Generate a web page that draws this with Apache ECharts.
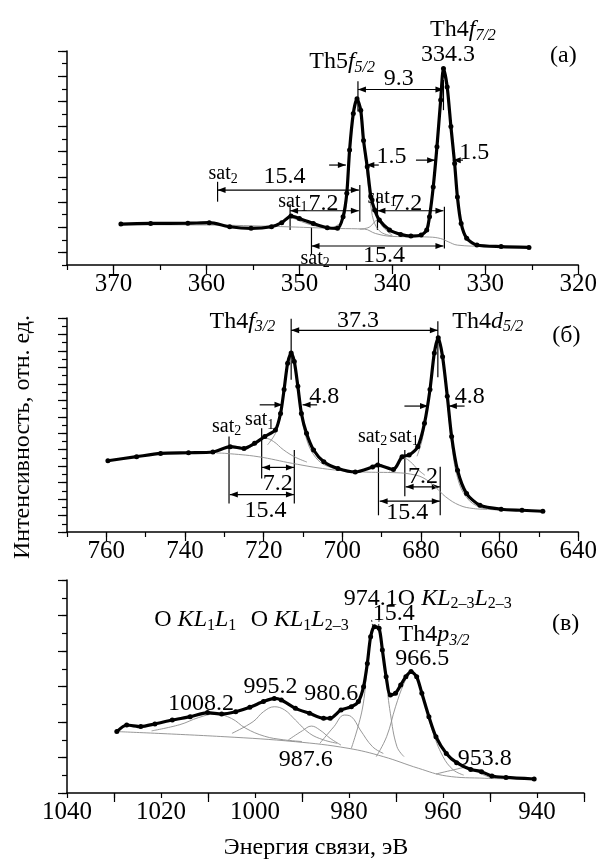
<!DOCTYPE html>
<html lang="ru">
<head>
    <meta charset="UTF-8">
    <title>XPS Th</title>
    <script src="https://cdn.jsdelivr.net/npm/echarts@6/dist/echarts.min.js"></script>
</head>
<body style="margin:0;background:#fff">
    <div id="box" style="width:600px;height:861px;"></div>
<script>
// ---------- данные: [энергия связи, интенсивность] ----------
// панель (a) Th5f / Th4f
var mainA = [[369.2,3.25],[366,3.3],[362,3.32],[359.7,3.36],[357.5,3.04],[355.2,2.91],[353,3.04],[351.9,3.36],[350.9,3.89],[350,3.7],[348.5,3.3],[347,2.96],[345.9,2.91],[345.3,3.84],[344.9,5.69],[344.6,9.13],[344.2,12.04],[343.8,13.2],[343.4,12.3],[343.1,9.9],[342.7,7.8],[342.3,5.4],[341.9,4.37],[341.4,3.57],[340.3,2.78],[339.1,2.43],[338,2.3],[336.9,2.38],[336.3,2.78],[336,3.84],[335.6,6.2],[335.2,9.4],[334.8,13.1],[334.5,15.6],[334.1,14.15],[333.7,11],[333.3,8.07],[333,5.4],[332.6,3.3],[332,2.12],[330.9,1.59],[328.3,1.46],[325.3,1.4]];
var bgA = [[369.2,3.2],[360,3.18],[352,3.05],[348,2.95],[345.8,2.9],[343,2.85],[341.8,2.5],[340,2.27],[336,2.22],[334.8,2.1],[334,1.85],[333,1.58],[330,1.48],[325.3,1.42]];
var satA1 = [[354,3.05],[352.3,3.25],[351,3.75],[349.8,3.45],[348.3,3.1],[346.5,2.95]];
var satA2 = [[343.5,2.85],[342.5,3.0],[341.6,3.55],[341,3.0],[340,2.35]];
var pkA1 = [[346.5,2.93],[345.3,3.6],[344.9,5.5],[344.6,9.0],[344.2,12.0],[343.8,13.15],[343.4,12.2],[343.1,9.8],[342.7,7.0],[342.3,4.6],[341.9,3.3],[341.2,2.6],[340,2.3]];
var pkA2 = [[337.5,2.25],[336.3,2.6],[336,3.6],[335.6,6.1],[335.2,9.3],[334.8,13.0],[334.5,15.5],[334.1,14.1],[333.7,10.9],[333.3,8.0],[333,5.3],[332.6,3.2],[332,2.0],[331,1.55],[329,1.47]];

// панель (б) Th4d
var mainB = [[759.6,8.66],[752.3,9.15],[746.2,9.55],[739.1,9.63],[732.9,9.72],[728.5,10.37],[725,10.16],[722.3,10.77],[719.7,11.6],[717,12.4],[715.7,14.4],[714.8,17.3],[713.9,20.5],[713,21.75],[712.2,20.7],[711.3,17.7],[710.4,14.4],[709.1,12],[707.3,9.96],[704.7,8.54],[701.1,7.72],[696.7,7.3],[692.3,7.9],[691,8.13],[687,7.6],[684.8,9.15],[683,9.35],[680.8,10.37],[679.1,13.2],[677.7,17.3],[676.6,21.75],[675.6,23.6],[674.5,21.3],[673.3,16.5],[672.2,11.6],[670.7,7.5],[668.4,4.67],[665,3.25],[659.6,2.76],[654.3,2.64],[649,2.52]];
var bgB = [[732,9.6],[729.6,9.55],[721.4,9.15],[712.6,8.33],[703.8,7.64],[695,7.3],[686.1,7.2],[682.6,7.03],[679.5,6.6],[676.4,5.5],[673.7,4.27],[670.2,3.25],[666.7,2.85],[663.2,2.76]];
var satB1 = [[724.5,10.0],[722,10.7],[719.7,11.4],[717.5,11.0],[715,10.0],[712,9.1],[709,8.5]];
var pkB1 = [[719,10.6],[717,12.0],[715.7,14.2],[714.8,17.2],[713.9,20.4],[713,21.65],[712.2,20.6],[711.3,17.5],[710.4,14.1],[709.1,11.3],[707.3,9.4],[704.7,8.2],[701,7.6]];
var satB2 = [[688,7.4],[685.8,8.3],[684.2,8.95],[682.6,8.5],[680.8,7.6],[679,6.9]];
var pkB2 = [[681,9.2],[679.8,11.0],[679.1,12.9],[677.7,17.0],[676.6,21.5],[675.6,23.5],[674.5,21.2],[673.3,16.0],[672.2,10.8],[670.7,6.6],[668.4,4.2],[665,3.0],[661,2.7]];

// панель (в) Th4p + O KLL
var mainV = [[1029.4,3.46],[1027.3,3.83],[1024.3,3.74],[1021.3,3.89],[1017.6,4.11],[1013.8,4.3],[1010.1,4.53],[1007.1,4.45],[1004.1,4.58],[1001.1,4.83],[998.2,5.15],[995.9,5.33],[994.4,5.24],[991.4,4.77],[988.4,4.49],[985.4,4.21],[984,4.21],[981.7,4.68],[979.5,4.86],[978,5.15],[976.9,5.99],[976.1,7.3],[975.4,8.8],[974.6,9.37],[973.6,9.28],[972.9,8.06],[972.1,6.55],[971.2,5.52],[970.1,5.62],[969,6.08],[967.9,6.55],[966.8,6.84],[965.6,6.55],[964.5,5.62],[963,4.3],[961.5,3.17],[959.3,2.23],[957.1,1.71],[954.1,1.33],[951.8,1.2],[949.6,0.96],[946.6,0.88],[940.6,0.79]];
var bgV = [[1029.4,3.46],[1006.4,3.17],[991.4,2.89],[980.2,2.52],[972.7,2.05],[965.2,1.39],[959.3,0.96],[951.1,0.83],[946,0.8]];
var pkV1 = [[1022,3.5],[1016,3.85],[1012,4.25],[1008.5,4.45],[1005,4.2],[1002,3.65],[998,3.2],[994,3.0],[990,2.9]];
var pkV2 = [[1004.9,3.36],[1000.4,4.02],[998.2,4.58],[995.9,4.86],[993.7,4.68],[991.4,4.11],[988.4,3.36],[985.4,2.99],[982.5,2.8]];
var pkV3 = [[992.9,2.99],[989.9,3.51],[988,3.77],[986.2,3.55],[984,3.08],[981.7,2.7]];
var pkV4 = [[986.2,2.8],[983.2,3.74],[981,4.39],[979.5,4.3],[977.6,3.55],[975,2.61],[972.7,2.23]];
var pkV5 = [[979.5,2.52],[977.2,4.68],[976.1,7.12],[975.1,9.0],[974.2,9.37],[973.1,8.43],[972.1,6.37],[971.2,4.49],[969.8,2.61],[968.3,2.05]];
var pkV6 = [[974.2,2.05],[972,3.17],[970.1,4.86],[968.3,6.18],[966.8,6.84],[965.3,6.37],[963.8,5.05],[962.3,3.55],[960,2.05],[957.8,1.3],[955.6,1.01]];
var pkV7 = [[961.5,1.07],[957.8,1.3],[954.8,1.45],[951.8,1.07],[949.6,0.83]];

// оси: [min, max, шаг тиков, шаг подписей]
var xRanges = [[320, 375, 5, 10], [640, 770, 10, 20], [930, 1040, 10, 20]];
var yRanges = [[0, 17], [0, 26], [0, 12]];
var yLong = [[1,3,5,7,9,11,13,15,17], [0,2,4,6,8,10,12,14,16,18,20,22,24,26], [0,2,4,6,8,10,12]];

// подписи и стрелки в координатах данных
// [панель, x, y, текст, выравнивание]
var notes = [
  [0, 332.4, 18.7, '{n|Th4}{i|f}{s|7/2}'],
  [0, 334.0, 16.67, '{n|334.3}'],
  [0, 345.4, 16.14, '{n|Th5}{i|f}{s|5/2}'],
  [0, 321.6, 16.59, '{n|(a)}'],
  [0, 339.3, 14.81, '{n|9.3}'],
  [0, 340.1, 8.6, '{n|1.5}'],
  [0, 331.2, 8.92, '{n|1.5}'],
  [0, 351.6, 7.0, '{n|15.4}'],
  [0, 358.2, 7.22, '{m|sat}{su|2}'],
  [0, 350.7, 5.0, '{m|sat}{su|1}'],
  [0, 347.4, 4.84, '{n|7.2}'],
  [0, 341.1, 5.37, '{m|sat}{su|1}'],
  [0, 338.4, 4.84, '{n|7.2}'],
  [0, 348.3, 0.5, '{m|sat}{su|2}'],
  [0, 340.9, 0.71, '{n|15.4}'],

  [1, 725.4, 25.6, '{n|Th4}{i|f}{s|3/2}'],
  [1, 696, 25.7, '{n|37.3}'],
  [1, 663, 25.6, '{n|Th4}{i|d}{s|5/2}'],
  [1, 643, 23.8, '{n|(б)}'],
  [1, 704.6, 16.4, '{n|4.8}'],
  [1, 667.6, 16.4, '{n|4.8}'],
  [1, 729.4, 12.8, '{m|sat}{su|2}'],
  [1, 721, 13.6, '{m|sat}{su|1}'],
  [1, 692.3, 11.6, '{m|sat}{su|2}'],
  [1, 684.3, 11.6, '{m|sat}{su|1}'],
  [1, 716.4, 5.9, '{n|7.2}'],
  [1, 719.5, 2.64, '{n|15.4}'],
  [1, 679.5, 6.7, '{n|7.2}'],
  [1, 683.5, 2.32, '{n|15.4}'],

  [2, 1012.7, 9.78, '{n|O }{i|KL}{u|1}{i|L}{u|1}'],
  [2, 990.5, 9.78, '{n|O }{i|KL}{u|1}{i|L}{u|2–3}'],
  [2, 981.1, 10.97, '{n|974.1O }{i|KL}{u|2–3}{i|L}{u|2–3}', 'left'],
  [2, 970.5, 10.08, '{n|15.4}'],
  [2, 961.9, 8.9, '{n|Th4}{i|p}{s|3/2}'],
  [2, 964.4, 7.59, '{n|966.5}'],
  [2, 933.9, 9.56, '{n|(в)}'],
  [2, 1011.5, 5.05, '{n|1008.2}'],
  [2, 996.7, 5.99, '{n|995.2}'],
  [2, 983.8, 5.62, '{n|980.6}'],
  [2, 989.2, 1.86, '{n|987.6}'],
  [2, 951.1, 1.95, '{n|953.8}']
];
// [панель, x1, y1, x2, y2, наконечники: 0 нет, 1 в конце, 2 с обеих сторон, 3 пунктир]
var marks = [
  [0, 343.7, 14.6, 343.7, 12.2, 0],
  [0, 334.5, 14.7, 334.5, 12.3, 0],
  [0, 343.7, 13.94, 334.5, 13.94, 2],
  [0, 346.8, 7.94, 345.0, 7.94, 1],
  [0, 341.46, 7.94, 342.8, 7.94, 1],
  [0, 337.46, 8.33, 335.4, 8.33, 1],
  [0, 332.4, 8.33, 333.5, 8.33, 1],
  [0, 358.8, 5.95, 343.6, 5.95, 2],
  [0, 358.8, 6.61, 358.8, 5.03, 0],
  [0, 343.5, 6.35, 343.5, 3.44, 0],
  [0, 351.0, 4.31, 343.6, 4.31, 2],
  [0, 351.0, 4.84, 351.0, 2.78, 0],
  [0, 341.6, 4.31, 334.5, 4.31, 2],
  [0, 341.6, 5.74, 341.6, 2.78, 0],
  [0, 334.4, 4.63, 334.4, 1.32, 0],
  [0, 348.7, 1.51, 334.5, 1.51, 2],
  [0, 348.7, 2.99, 348.7, 0.87, 0],

  [1, 713.0, 25.9, 713.0, 18.5, 0],
  [1, 675.7, 25.6, 675.7, 18.8, 0],
  [1, 713.0, 24.5, 675.7, 24.5, 2],
  [1, 721, 15.45, 715.2, 15.45, 1],
  [1, 706.4, 15.45, 710.1, 15.45, 1],
  [1, 684.2, 15.3, 678.2, 15.3, 1],
  [1, 668.9, 15.3, 672.9, 15.3, 1],
  [1, 728.8, 11.6, 728.8, 3.46, 0],
  [1, 720.5, 12.6, 720.5, 6.5, 0],
  [1, 712.2, 9.96, 712.2, 3.46, 0],
  [1, 720.4, 7.85, 712.3, 7.85, 2],
  [1, 728.6, 4.55, 712.3, 4.55, 2],
  [1, 690.8, 10.2, 690.8, 2.03, 0],
  [1, 684.1, 9.96, 684.1, 4.35, 0],
  [1, 675.1, 7.93, 675.1, 2.03, 0],
  [1, 683.9, 5.49, 675.2, 5.49, 2],
  [1, 690.5, 3.74, 675.2, 3.74, 2],

  [2, 975.2, 9.75, 975.0, 9.45, 3],
  [2, 973.6, 9.75, 973.7, 9.4, 3]
];

var FONT = '"Liberation Serif", "Times New Roman", serif';
var mainSets = [mainA, mainB, mainV];
var compSets = [[bgA, satA1, satA2, pkA1, pkA2], [bgB, satB1, pkB1, satB2, pkB2], [bgV, pkV1, pkV2, pkV3, pkV4, pkV5, pkV6, pkV7]];
var gridPos = [[51, 214], [318, 214], [580, 213]];

var mEcharts = echarts.init(document.querySelector('#box'));

var grids = [], xAxes = [], yAxes = [], series = [];
for (var i = 0; i < 3; i++) {
    grids.push({left: 67, right: 16, top: gridPos[i][0], height: gridPos[i][1]});
    var xr = xRanges[i];
    (function (step) {
        xAxes.push({
            gridIndex: i, type: 'value', min: xr[0], max: xr[1], interval: xr[2], inverse: true,
            axisLine: {onZero: false, lineStyle: {color: '#000', width: 1.5}},
            axisTick: {length: 5, lineStyle: {color: '#000', width: 1.2}},
            axisLabel: {
                fontFamily: FONT, fontSize: 25, color: '#000', margin: 7,
                formatter: function (val) { return val % step === 0 ? String(val) : ''; }
            },
            splitLine: {show: false}
        });
    })(xr[3]);
    yAxes.push({
        gridIndex: i, type: 'value', min: yRanges[i][0], max: yRanges[i][1], interval: 1,
        axisLine: {show: true, onZero: false, lineStyle: {color: '#000', width: 1.5}},
        axisTick: {show: true, length: 5, lineStyle: {color: '#000', width: 1.2}},
        axisLabel: {show: false}, splitLine: {show: false}
    });
    series.push({
        type: 'line', xAxisIndex: i, yAxisIndex: i, data: mainSets[i], z: 3,
        smooth: 0.25, symbol: 'circle', symbolSize: 5, showSymbol: true,
        itemStyle: {color: '#000'}, lineStyle: {color: '#000', width: 3.2}
    });
    compSets[i].forEach(function (c) {
        series.push({
            type: 'line', xAxisIndex: i, yAxisIndex: i, data: c, z: 2,
            smooth: 0.4, symbol: 'none', lineStyle: {color: '#8c8c8c', width: 0.9}
        });
    });
}
// вторые оси: только длинные штрихи
for (var k = 0; k < 3; k++) {
    var r = xRanges[k], lx = [];
    for (var w = r[0]; w <= r[1]; w += r[3]) lx.push(w);
    xAxes.push({
        gridIndex: k, type: 'value', min: r[0], max: r[1], inverse: true, position: 'bottom',
        axisLine: {show: false}, axisLabel: {show: false}, splitLine: {show: false},
        axisTick: {show: true, customValues: lx, length: 9, lineStyle: {color: '#000', width: 1.2}}
    });
    yAxes.push({
        gridIndex: k, type: 'value', min: yRanges[k][0], max: yRanges[k][1], position: 'left',
        axisLine: {show: false}, axisLabel: {show: false}, splitLine: {show: false},
        axisTick: {show: true, customValues: yLong[k], length: 9, lineStyle: {color: '#000', width: 1.2}}
    });
}

var option = {
    animation: false,
    backgroundColor: '#fff',
    grid: grids,
    xAxis: xAxes,
    yAxis: yAxes,
    series: series
};
mEcharts.setOption(option);

// подписи/стрелки переводим в пиксели через оси
var rich = {
    n: {fontFamily: FONT, fontSize: 24, lineHeight: 28, color: '#000'},
    i: {fontFamily: FONT, fontSize: 24, lineHeight: 28, fontStyle: 'italic', color: '#000'},
    s: {fontFamily: FONT, fontSize: 16, lineHeight: 10, fontStyle: 'italic', verticalAlign: 'bottom', color: '#000'},
    u: {fontFamily: FONT, fontSize: 16, lineHeight: 10, verticalAlign: 'bottom', color: '#000'},
    m: {fontFamily: FONT, fontSize: 20, lineHeight: 24, color: '#000'},
    su: {fontFamily: FONT, fontSize: 14, lineHeight: 8, verticalAlign: 'bottom', color: '#000'}
};
function toPx(g, x, y) {
    return mEcharts.convertToPixel({xAxisIndex: g, yAxisIndex: g}, [x, y]);
}
function head(p1, p2) {
    var dx = p2[0] - p1[0], dy = p2[1] - p1[1];
    var L = Math.sqrt(dx * dx + dy * dy) || 1;
    var ux = dx / L, uy = dy / L, hl = 8, hw = 3;
    return {
        type: 'polygon', silent: true,
        shape: {points: [[p2[0], p2[1]],
            [p2[0] - ux * hl - uy * hw, p2[1] - uy * hl + ux * hw],
            [p2[0] - ux * hl + uy * hw, p2[1] - uy * hl - ux * hw]]},
        style: {fill: '#000'}
    };
}
var els = [];
marks.forEach(function (m) {
    var a = toPx(m[0], m[1], m[2]), b = toPx(m[0], m[3], m[4]);
    els.push({type: 'line', silent: true, shape: {x1: a[0], y1: a[1], x2: b[0], y2: b[1]},
        style: {stroke: '#000', lineWidth: m[5] === 3 ? 0.8 : 1.2, lineDash: m[5] === 3 ? [2, 2] : null}});
    if (m[5] === 1 || m[5] === 2) els.push(head(a, b));
    if (m[5] === 2) els.push(head(b, a));
});
notes.forEach(function (t) {
    var p = toPx(t[0], t[1], t[2]);
    els.push({type: 'text', silent: true, x: p[0], y: p[1], z: 10,
        style: {text: t[3], rich: rich, align: t[4] || 'center', verticalAlign: 'middle'}});
});
els.push({type: 'text', silent: true, x: 23, y: 437, rotation: Math.PI / 2,
    style: {text: 'Интенсивность, отн. ед.', fontFamily: FONT, fontSize: 24, fill: '#000',
        align: 'center', verticalAlign: 'middle'}});
els.push({type: 'text', silent: true, x: 316, y: 848,
    style: {text: 'Энергия связи, эВ', fontFamily: FONT, fontSize: 24, fill: '#000',
        align: 'center', verticalAlign: 'middle'}});
mEcharts.setOption({graphic: els});
</script>
</body>
</html>
